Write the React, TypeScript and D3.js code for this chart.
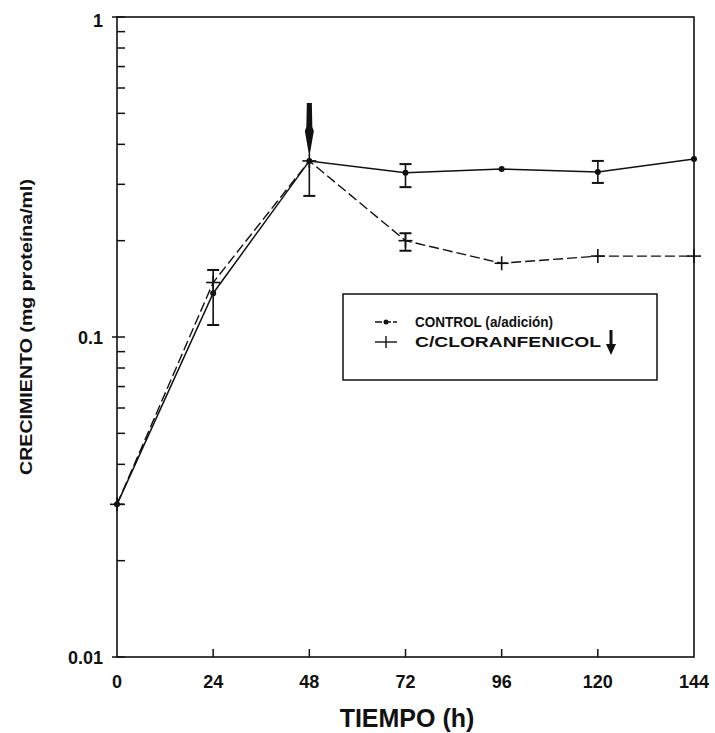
import React from "react";
import * as d3 from "d3";

// time points (h)
const hours = [0, 24, 48, 72, 96, 120, 144];
const xTicks = [0, 24, 48, 72, 96, 120, 144];
const yMajor = [0.01, 0.1, 1];
const yMajorLabels = ["0.01", "0.1", "1"];

// series
const control = [0.03, 0.137, 0.355, 0.326, 0.335, 0.328, 0.36];
const cloranfenicol = [0.03, 0.148, 0.355, 0.2, 0.17, 0.179, 0.179];

// error bars [hour, low, high] (null = not visible)
const controlErr: [number, number | null, number | null][] = [
    [24, 0.109, 0.162],
    [48, 0.276, null],
    [72, 0.294, 0.347],
    [120, 0.303, 0.355],
];
const cloranfenicolErr: [number, number | null, number | null][] = [[72, 0.186, 0.211]];

const additionHour = 48;

const legendLabels = ["CONTROL (a/adición)", "C/CLORANFENICOL"];
const xTitle = "TIEMPO (h)";
const yTitle = "CRECIMIENTO (mg proteína/ml)";

const width = 715;
const height = 733;
const margin = { top: 17, right: 21, bottom: 76, left: 117 };
const font = "'Liberation Sans', Arial, Helvetica, sans-serif";

const App = (): JSX.Element => {
    const x = d3
        .scaleLinear()
        .domain([0, 144])
        .range([margin.left, width - margin.right]);
    const y = d3
        .scaleLog()
        .domain([0.01, 1])
        .range([height - margin.bottom, margin.top]);

    const minor: number[] = [];
    [0.01, 0.1].forEach((d) => {
        for (let k = 2; k <= 9; k++) minor.push(d * k);
    });

    const ctrlPts = hours.map((h, i) => [h, control[i]] as [number, number]);
    const clorPts = hours.map((h, i) => [h, cloranfenicol[i]] as [number, number]);

    const line = d3
        .line<[number, number]>()
        .x((d) => x(d[0]))
        .y((d) => y(d[1]));

    const errBars = (errs: [number, number | null, number | null][], vals: number[], key: string) =>
        errs.map(([h, lo, hi], i) => {
            const cx = x(h);
            const yc = y(vals[hours.indexOf(h)]);
            const y1 = hi != null ? y(hi) : yc;
            const y2 = lo != null ? y(lo) : yc;
            return (
                <g key={key + i} stroke="#111" strokeWidth={1.6}>
                    <line x1={cx} x2={cx} y1={y1} y2={y2} />
                    {hi != null && <line x1={cx - 6} x2={cx + 6} y1={y1} y2={y1} strokeWidth={2} />}
                    {lo != null && <line x1={cx - 6} x2={cx + 6} y1={y2} y2={y2} strokeWidth={2} />}
                </g>
            );
        });

    // arrow marking the addition at 48 h
    const ax = x(additionHour);
    const tip = y(0.355) - 4;
    const arrowPath = `M${ax - 2.5},103 L${ax + 2.5},103 L${ax + 3},${tip - 30} L${ax + 4.5},${tip - 26} L${ax},${tip} L${ax - 4.5},${tip - 26} L${ax - 3},${tip - 30} Z`;

    // legend
    const lg = { x: 343, y: 294, w: 314, h: 86 };
    const row1 = 322;
    const row2 = 342;

    return (
        <svg
            width={width}
            height={height}
            viewBox={`0 0 ${width} ${height}`}
            style={{ position: "absolute", left: 0, top: 0, background: "#fff" }}
            fontFamily={font}
        >
            {/* frame */}
            <rect
                x={margin.left}
                y={margin.top}
                width={width - margin.left - margin.right}
                height={height - margin.top - margin.bottom}
                fill="none"
                stroke="#111"
                strokeWidth={1.6}
            />

            {/* y minor ticks */}
            {minor.map((d, i) => (
                <line key={"m" + i} x1={margin.left} x2={margin.left + 8} y1={y(d)} y2={y(d)} stroke="#111" strokeWidth={1.5} />
            ))}
            {/* y major ticks and labels */}
            {yMajor.map((d, i) => (
                <g key={"y" + i}>
                    <line x1={margin.left - 5} x2={margin.left + 8} y1={y(d)} y2={y(d)} stroke="#111" strokeWidth={1.5} />
                    <text
                        x={margin.left - 14}
                        y={y(d) + (i === 2 ? 10 : 7)}
                        textAnchor="end"
                        fontSize={18}
                        fontWeight="bold"
                        fill="#111"
                    >
                        {yMajorLabels[i]}
                    </text>
                </g>
            ))}

            {/* x ticks and labels */}
            {xTicks.map((d) => (
                <g key={"x" + d}>
                    {d > 0 && d < 144 && (
                        <line x1={x(d)} x2={x(d)} y1={y(0.01)} y2={y(0.01) - 8} stroke="#111" strokeWidth={1.5} />
                    )}
                    <text x={x(d)} y={688} textAnchor="middle" fontSize={18} fontWeight="bold" fill="#111">
                        {d}
                    </text>
                </g>
            ))}

            {/* axis titles */}
            <text x={407} y={727} textAnchor="middle" fontSize={25} fontWeight="bold" fill="#111">
                {xTitle}
            </text>
            <text
                transform={`translate(32,327) rotate(-90)`}
                textAnchor="middle"
                fontSize={17}
                fontWeight="bold"
                fill="#111"
                textLength={296}
                lengthAdjust="spacingAndGlyphs"
            >
                {yTitle}
            </text>

            {/* series lines */}
            <path d={line(clorPts) || ""} fill="none" stroke="#111" strokeWidth={1.4} strokeDasharray="10,4" />
            <path d={line(ctrlPts) || ""} fill="none" stroke="#111" strokeWidth={1.5} />

            {/* error bars */}
            {errBars(controlErr, control, "ctrl")}
            {errBars(cloranfenicolErr, cloranfenicol, "clor")}

            {/* markers */}
            {ctrlPts.map((d, i) => (
                <circle key={"c" + i} cx={x(d[0])} cy={y(d[1])} r={3} fill="#111" />
            ))}
            {clorPts.map((d, i) => (
                <g key={"p" + i} stroke="#111" strokeWidth={1.6}>
                    <line x1={x(d[0]) - 7} x2={x(d[0]) + 7} y1={y(d[1])} y2={y(d[1])} />
                    <line x1={x(d[0])} x2={x(d[0])} y1={y(d[1]) - 7} y2={y(d[1]) + 7} />
                </g>
            ))}

            {/* addition arrow */}
            <path d={arrowPath} fill="#111" />

            {/* legend */}
            <rect x={lg.x} y={lg.y} width={lg.w} height={lg.h} fill="#fff" stroke="#111" strokeWidth={1.5} />
            <line x1={375} x2={397} y1={row1} y2={row1} stroke="#111" strokeWidth={1.4} strokeDasharray="7,2" />
            <circle cx={386} cy={row1} r={2.5} fill="#111" />
            <text x={415} y={row1 + 5} fontSize={14} fontWeight="bold" fill="#111" textLength={138} lengthAdjust="spacingAndGlyphs">
                {legendLabels[0]}
            </text>
            <line x1={375} x2={397} y1={row2} y2={row2} stroke="#111" strokeWidth={1.4} />
            <line x1={386} x2={386} y1={row2 - 6} y2={row2 + 6} stroke="#111" strokeWidth={1.4} />
            <text x={415} y={row2 + 5} fontSize={14} fontWeight="bold" fill="#111" textLength={186} lengthAdjust="spacingAndGlyphs">
                {legendLabels[1]}
            </text>
            <line x1={611} x2={611} y1={row2 - 12} y2={row2 + 4} stroke="#111" strokeWidth={3} />
            <path d={`M${606},${row2 + 2} L${616},${row2 + 2} L${611},${row2 + 13} Z`} fill="#111" />
        </svg>
    );
};

export default App;
